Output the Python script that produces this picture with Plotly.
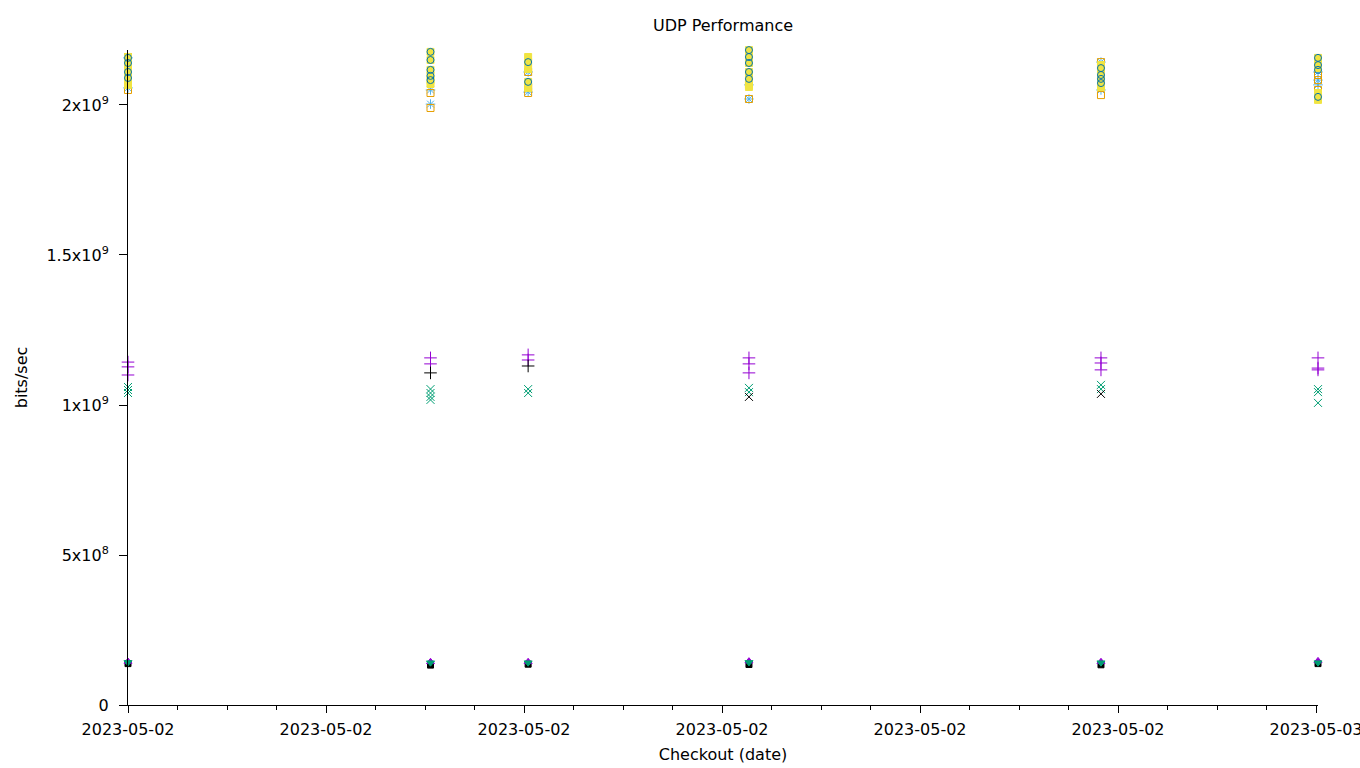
import plotly.graph_objects as go

# ---- data ----
run_times = ["2023-05-02 18:00:00", "2023-05-02 19:31:40", "2023-05-02 20:01:15",
             "2023-05-02 21:08:10", "2023-05-02 22:54:50", "2023-05-03 00:00:36"]

# values per run (index into run_times) for each series
purple_plus = [[1.143e9, 1.127e9, 1.100e9], [1.157e9, 1.137e9], [1.167e9, 1.150e9],
               [1.157e9, 1.137e9, 1.107e9], [1.157e9, 1.140e9, 1.117e9], [1.157e9, 1.123e9, 1.117e9]]
green_x = [[1.060e9, 1.050e9, 1.040e9], [1.053e9, 1.040e9, 1.027e9, 1.017e9], [1.053e9, 1.040e9],
           [1.057e9, 1.043e9], [1.067e9, 1.053e9], [1.053e9, 1.043e9, 1.007e9]]
black_plus = [[], [1.107e9], [1.130e9], [], [], []]
black_x = [[], [], [], [1.027e9], [1.037e9], []]
blue_star = [[2.157e9, 2.057e9], [2.050e9, 2.003e9], [2.110e9, 2.043e9],
             [2.067e9, 2.020e9], [2.143e9, 2.050e9], [2.110e9, 2.083e9, 2.067e9]]
orange_sq = [[2.160e9, 2.100e9, 2.050e9], [2.040e9, 1.990e9], [2.110e9, 2.060e9, 2.040e9],
             [2.067e9, 2.020e9], [2.143e9, 2.033e9], [2.100e9, 2.083e9, 2.050e9, 2.033e9]]
yellow_sq = [[2.160e9, 2.143e9, 2.123e9, 2.100e9, 2.083e9, 2.067e9],
             [2.177e9, 2.150e9, 2.117e9, 2.097e9, 2.083e9, 2.070e9],
             [2.160e9, 2.143e9, 2.120e9, 2.077e9, 2.057e9],
             [2.183e9, 2.160e9, 2.140e9, 2.110e9, 2.097e9, 2.077e9, 2.060e9],
             [2.133e9, 2.117e9, 2.100e9, 2.083e9, 2.060e9],
             [2.157e9, 2.143e9, 2.123e9, 2.040e9, 2.030e9, 2.017e9]]
blue_circle = [[2.157e9, 2.140e9, 2.110e9, 2.090e9],
               [2.177e9, 2.150e9, 2.117e9, 2.097e9, 2.083e9],
               [2.143e9, 2.077e9],
               [2.183e9, 2.160e9, 2.140e9, 2.110e9, 2.087e9],
               [2.123e9, 2.100e9, 2.087e9, 2.073e9],
               [2.157e9, 2.133e9, 2.117e9, 2.027e9]]
black_sq = [[1.38e8], [1.33e8], [1.36e8], [1.35e8], [1.34e8], [1.38e8]]
purple_tri = [[1.45e8], [1.44e8], [1.44e8], [1.46e8], [1.44e8], [1.47e8]]
green_tri = [[1.42e8], [1.41e8], [1.41e8], [1.42e8], [1.41e8], [1.41e8]]

x_range = ["2023-05-02 18:00:00", "2023-05-03 00:00:36"]
x_tick_vals = ["2023-05-02 18:00", "2023-05-02 19:00", "2023-05-02 20:00", "2023-05-02 21:00",
               "2023-05-02 22:00", "2023-05-02 23:00", "2023-05-03 00:00"]
x_tick_text = ["2023-05-02", "2023-05-02", "2023-05-02", "2023-05-02",
               "2023-05-02", "2023-05-02", "2023-05-03"]
y_tick_vals = [0, 5e8, 1e9, 1.5e9, 2e9]
y_tick_text = ["0", "5x10<sup>8</sup>", "1x10<sup>9</sup>", "1.5x10<sup>9</sup>", "2x10<sup>9</sup>"]
y_max = 2.1833e9

FONT = "DejaVu Sans"


def flatten(per_run):
    xs, ys = [], []
    for t, vals in zip(run_times, per_run):
        for v in vals:
            xs.append(t)
            ys.append(v)
    return xs, ys


series = [
    (purple_plus, "cross-thin-open", "#9400d3", 9),
    (green_x, "x-thin-open", "#009e73", 8),
    (black_plus, "cross-thin-open", "#000000", 9),
    (black_x, "x-thin-open", "#000000", 8),
    (blue_star, "asterisk-open", "#56b4e9", 8),
    (orange_sq, "square-open", "#e69f00", 7),
    (yellow_sq, "square", "#f0e442", 7),
    (blue_circle, "circle-open", "#0072b2", 7),
    (black_sq, "square", "#000000", 6),
    (purple_tri, "triangle-up", "#9400d3", 7),
    (green_tri, "triangle-down", "#009e73", 7),
]

fig = go.Figure()
for data, sym, col, sz in series:
    xs, ys = flatten(data)
    fig.add_trace(go.Scatter(
        x=xs, y=ys, mode="markers", cliponaxis=False, showlegend=False,
        marker=dict(symbol=sym, size=sz, color=col, line=dict(color=col, width=1)),
    ))

axis_common = dict(showgrid=False, zeroline=False, tickcolor="black", tickwidth=1,
                   automargin=False,
                   tickfont=dict(family=FONT, size=16, color="black"))

fig.update_layout(
    template="none",
    width=1360, height=768,
    margin=dict(l=128, r=42, t=50, b=63, autoexpand=False),
    paper_bgcolor="white", plot_bgcolor="white",
    font=dict(family=FONT, size=16, color="black"),
    title=dict(text="UDP Performance", x=0.5, xref="paper", xanchor="center",
               y=1 - 25 / 768, yref="container", yanchor="middle",
               font=dict(family=FONT, size=16, color="black")),
    xaxis=dict(type="date", range=x_range, tickmode="array", tickvals=x_tick_vals,
               ticktext=x_tick_text, ticks="outside", ticklen=7, showline=True,
               linecolor="black", linewidth=1, ticklabeloverflow="allow",
               ticklabelstandoff=3,
               minor=dict(ticks="outside", ticklen=4, tickcolor="black", dtick=900000,
                          tick0=x_range[0], showgrid=False),
               title=dict(text="Checkout (date)", standoff=10,
                          font=dict(family=FONT, size=16)),
               **axis_common),
    yaxis=dict(range=[0, y_max], tickmode="array", tickvals=y_tick_vals, ticktext=y_tick_text,
               ticks="outside", ticklen=8, showline=True, linecolor="black", linewidth=1,
               ticklabelstandoff=7,
               title=dict(text="bits/sec", standoff=14, font=dict(family=FONT, size=16)),
               **axis_common),
    xaxis2=dict(type="date", overlaying="x", side="top", matches="x", range=x_range,
                tickmode="array", tickvals=x_tick_vals, showticklabels=False,
                ticks="outside", ticklen=7, showline=False, anchor="y",
                minor=dict(ticks="outside", ticklen=4, tickcolor="black", dtick=900000,
                           tick0=x_range[0], showgrid=False),
                **axis_common),
    yaxis2=dict(overlaying="y", side="right", matches="y", range=[0, y_max],
                tickmode="array", tickvals=y_tick_vals, showticklabels=False,
                ticks="outside", ticklen=8, showline=False, anchor="x",
                **axis_common),
)

fig.write_html("out.html")
